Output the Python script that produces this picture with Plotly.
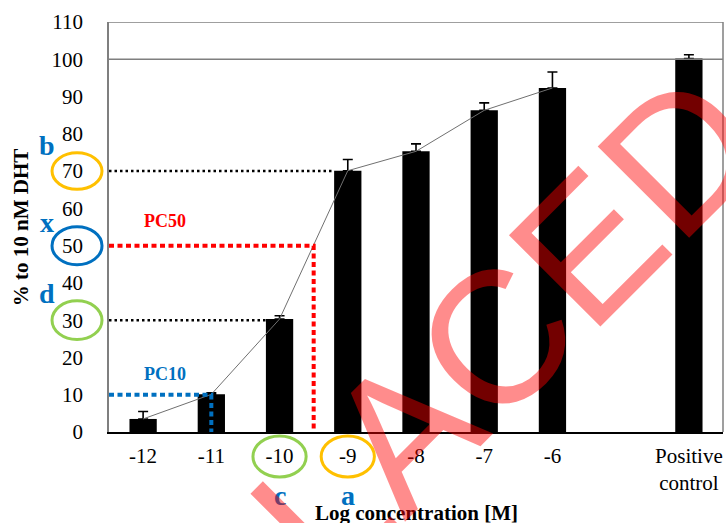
import plotly.graph_objects as go

# ---------------- data ----------------
categories = ["-12", "-11", "-10", "-9", "-8", "-7", "-6", "Positive<br>control"]
x_pos = [0, 1, 2, 3, 4, 5, 6, 8]
values = [3.5, 10.1, 30.3, 70.1, 75.3, 86.3, 92.3, 100.2]
errors = [2.0, 0.4, 0.9, 3.0, 2.0, 2.0, 4.3, 1.0]
curve_x = [0, 1, 2, 3, 4, 5, 6]
curve_y = values[:7]
y_ticks = list(range(0, 111, 10))

pc50_value, pc50_x = 50, 2.5
pc10_value, pc10_x = 10, 1.0
level_b, level_d = 70, 30

SERIF = "Liberation Serif"
BLUE = "#0070C0"
ORANGE = "#FFC000"
GREEN = "#92D050"
GRAY = "#7f7f7f"

fig = go.Figure()

fig.add_trace(go.Bar(
    x=x_pos, y=values, width=0.4,
    marker=dict(color="black", line=dict(width=0)),
    error_y=dict(type="data", array=errors, arrayminus=[0] * len(errors),
                 symmetric=False, color="black", thickness=1.6, width=5),
    showlegend=False, hoverinfo="skip"))

fig.add_trace(go.Scatter(
    x=curve_x, y=curve_y, mode="lines",
    line=dict(color="#707070", width=1), showlegend=False))

# reference lines
fig.add_trace(go.Scatter(x=[-0.5, 3 - 0.2], y=[level_b, level_b], mode="lines",
                         line=dict(color="black", width=2.5, dash="2.5px,3px"), showlegend=False))
fig.add_trace(go.Scatter(x=[-0.5, 2 - 0.2], y=[level_d, level_d], mode="lines",
                         line=dict(color="black", width=2.5, dash="2.5px,3px"), showlegend=False))
fig.add_trace(go.Scatter(x=[-0.5, pc50_x, pc50_x], y=[pc50_value, pc50_value, 0], mode="lines",
                         line=dict(color="#FF0000", width=4, dash="5px,3.5px"), showlegend=False))
fig.add_trace(go.Scatter(x=[-0.5, pc10_x, pc10_x], y=[pc10_value, pc10_value, 0], mode="lines",
                         line=dict(color=BLUE, width=4, dash="5px,3.5px"), showlegend=False))

shapes = []
# frame & 100 line
shapes.append(dict(type="line", xref="paper", yref="y", x0=0, x1=1, y0=110, y1=110,
                   line=dict(color=GRAY, width=1.5)))
shapes.append(dict(type="line", xref="paper", yref="y", x0=0, x1=1, y0=100, y1=100,
                   line=dict(color=GRAY, width=1.5)))
shapes.append(dict(type="line", xref="paper", yref="paper", x0=1, x1=1, y0=0, y1=1,
                   line=dict(color=GRAY, width=1.5)))

# ellipses around y tick labels
def y_ellipse(val, color, hh=4.9):
    return dict(type="circle", xref="paper", yref="y", x0=-0.0928, x1=-0.0114,
                y0=val - hh, y1=val + hh, line=dict(color=color, width=3))

shapes.append(y_ellipse(70, ORANGE))
shapes.append(y_ellipse(50, BLUE, 5.1))
shapes.append(y_ellipse(30, GREEN, 5.2))

def x_ellipse(xv, color):
    return dict(type="circle", xref="x", yref="paper", x0=xv - 0.39, x1=xv + 0.39,
                y0=-0.1098, y1=-0.0098, line=dict(color=color, width=3))

shapes.append(x_ellipse(2, GREEN))
shapes.append(x_ellipse(3, ORANGE))

annotations = []
def letter(text, x, y, xref="paper", yref="paper"):
    annotations.append(dict(text="<b>%s</b>" % text, x=x, y=y, xref=xref, yref=yref,
                            showarrow=False, xanchor="center", yanchor="middle",
                            font=dict(family=SERIF, size=28, color=BLUE)))

letter("b", -0.101, 0.698)
letter("x", -0.101, 0.510)
letter("d", -0.101, 0.337)
letter("c", 2, -0.154, xref="x")
letter("a", 3, -0.154, xref="x")

annotations.append(dict(text="<b>PC50</b>", x=0.32, y=56.6, xref="x", yref="y", showarrow=False,
                        font=dict(family=SERIF, size=18, color="#FF0000")))
annotations.append(dict(text="<b>PC10</b>", x=0.32, y=15.6, xref="x", yref="y", showarrow=False,
                        font=dict(family=SERIF, size=18, color=BLUE)))

# axis titles
annotations.append(dict(text="<b>% to 10 nM DHT</b>", x=-0.143, y=0.5, xref="paper", yref="paper",
                        textangle=-90, showarrow=False, xanchor="center", yanchor="middle",
                        font=dict(family=SERIF, size=21, color="black")))
annotations.append(dict(text="<b>Log concentration [M]</b>", x=0.5, y=-0.198, xref="paper", yref="paper",
                        showarrow=False, xanchor="center", yanchor="middle",
                        font=dict(family=SERIF, size=21, color="black")))

# watermark
annotations.append(dict(text="REPLACED", x=0.425, y=-0.080, xref="paper", yref="paper",
                        textangle=-45, showarrow=False, xanchor="center", yanchor="middle",
                        font=dict(family="Liberation Sans", size=188, color="rgba(255,0,0,0.45)")))

fig.update_layout(
    width=726, height=523,
    margin=dict(l=109, r=3, t=22, b=91),
    plot_bgcolor="white", paper_bgcolor="white",
    shapes=shapes, annotations=annotations,
    showlegend=False,
    xaxis=dict(range=[-0.5, 8.5], tickvals=x_pos, ticktext=categories,
               showgrid=False, zeroline=False, showline=True, linecolor="black", linewidth=1.5,
               ticks="", ticklabelstandoff=4,
               tickfont=dict(family=SERIF, size=21, color="black")),
    yaxis=dict(range=[0, 110], tickvals=y_ticks, showgrid=False, zeroline=False,
               showline=True, linecolor=GRAY, linewidth=1.5, ticks="", ticklabelstandoff=20,
               tickfont=dict(family=SERIF, size=21, color="black")),
)

# remove the default 8px page margin so the 726x523 figure fills the window exactly
fig.write_html("out.html",
               config={"displayModeBar": False},
               post_script="document.body.style.margin='0';document.body.style.overflow='hidden';")
